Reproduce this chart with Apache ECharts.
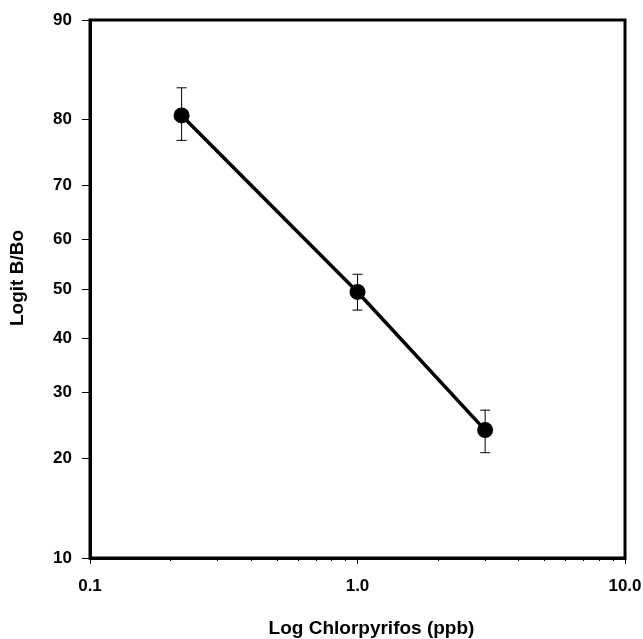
<!DOCTYPE html>
<html>
<head>
<meta charset="utf-8">
<script src="https://cdn.jsdelivr.net/npm/echarts@6/dist/echarts.min.js"></script>
<style>html,body{margin:0;padding:0;background:#fff}#c{width:643px;height:639px}</style>
</head>
<body>
<div id="c"></div>
<script>
// Data
var concPpb = [0.22, 1.0, 3.0];          // Chlorpyrifos, ppb
var logitPct = [80.5, 49.4, 24.0];       // B/Bo, %
var errHigh = [83.8, 53.0, 27.1];
var errLow = [77.1, 45.7, 20.8];
var yTickPct = [10, 20, 30, 40, 50, 60, 70, 80, 90];
var xMajorTicks = [0.1, 1, 10];
var xTickLabels = ['0.1', '1.0', '10.0'];
var xMinorTicks = [0.2,0.3,0.4,0.5,0.6,0.7,0.8,0.9,2,3,4,5,6,7,8,9];

function logit(p) { var f = p / 100; return Math.log(f / (1 - f)); }
function invLogit(v) { return 100 / (1 + Math.exp(-v)); }
function lg(x) { return Math.log10(x); }

var pts = concPpb.map(function (c, i) { return [lg(c), logit(logitPct[i])]; });
var errs = concPpb.map(function (c, i) { return [lg(c), logit(errLow[i]), logit(errHigh[i])]; });

var font = 'Liberation Sans, Arial, sans-serif';
var chart = echarts.init(document.getElementById('c'));
chart.setOption({
  animation: false,
  grid: { left: 90, right: 18, top: 20, bottom: 81, outerBoundsMode: 'none', containLabel: false,
    show: true, borderColor: '#000', borderWidth: 3, backgroundColor: 'transparent' },
  xAxis: [{
    type: 'value', min: -1, max: 1,
    name: 'Log Chlorpyrifos (ppb)', nameLocation: 'middle', nameGap: 61,
    nameTextStyle: { fontFamily: font, fontWeight: 'bold', fontSize: 19, color: '#000', padding: [0, 0, 0, 28] },
    axisLine: { show: true, onZero: false, lineStyle: { color: '#000', width: 3 } },
    splitLine: { show: false },
    axisTick: { show: true, length: 6, customValues: xMajorTicks.map(lg), lineStyle: { color: '#000', width: 1 } },
    axisLabel: { show: true, customValues: xMajorTicks.map(lg), margin: 20, fontFamily: font, fontWeight: 'bold', fontSize: 17, color: '#000',
      formatter: function (v) { var i = xMajorTicks.map(lg).findIndex(function (t) { return Math.abs(t - v) < 1e-6; }); return i >= 0 ? xTickLabels[i] : ''; } }
  }, {
    type: 'value', min: -1, max: 1, position: 'bottom',
    axisLine: { show: false, onZero: false }, splitLine: { show: false }, axisLabel: { show: false },
    axisTick: { show: true, length: 3, customValues: xMinorTicks.map(lg), lineStyle: { color: '#000', width: 1 } }
  }],
  yAxis: {
    type: 'value', min: logit(10), max: logit(90),
    name: 'Logit B/Bo', nameLocation: 'middle', nameGap: 63, nameRotate: 90,
    nameTextStyle: { fontFamily: font, fontWeight: 'bold', fontSize: 19, color: '#000', padding: [0, 0, 0, 22] },
    axisLine: { show: true, onZero: false, lineStyle: { color: '#000', width: 3 } },
    splitLine: { show: false },
    axisTick: { show: true, length: 8, customValues: yTickPct.map(logit), lineStyle: { color: '#000', width: 1 } },
    axisLabel: { show: true, customValues: yTickPct.map(logit), margin: 18, fontFamily: font, fontWeight: 'bold', fontSize: 17, color: '#000',
      formatter: function (v) { return String(Math.round(invLogit(v))); } }
  },
  series: [{
    type: 'line', data: pts, symbol: 'none', lineStyle: { color: '#000', width: 3.5 }, z: 2
  }, {
    type: 'custom', data: errs, z: 3,
    renderItem: function (params, api) {
      var x = api.value(0);
      var lo = api.coord([x, api.value(1)]);
      var hi = api.coord([x, api.value(2)]);
      var w = 5;
      var st = { stroke: '#000', lineWidth: 1 };
      return { type: 'group', children: [
        { type: 'line', shape: { x1: lo[0], y1: lo[1], x2: hi[0], y2: hi[1] }, style: st },
        { type: 'line', shape: { x1: lo[0] - w, y1: lo[1], x2: lo[0] + w, y2: lo[1] }, style: st },
        { type: 'line', shape: { x1: hi[0] - w, y1: hi[1], x2: hi[0] + w, y2: hi[1] }, style: st }
      ] };
    }
  }, {
    type: 'scatter', data: pts, symbol: 'circle', symbolSize: 16, itemStyle: { color: '#000', opacity: 1 }, z: 4
  }]
});
</script>
</body>
</html>
